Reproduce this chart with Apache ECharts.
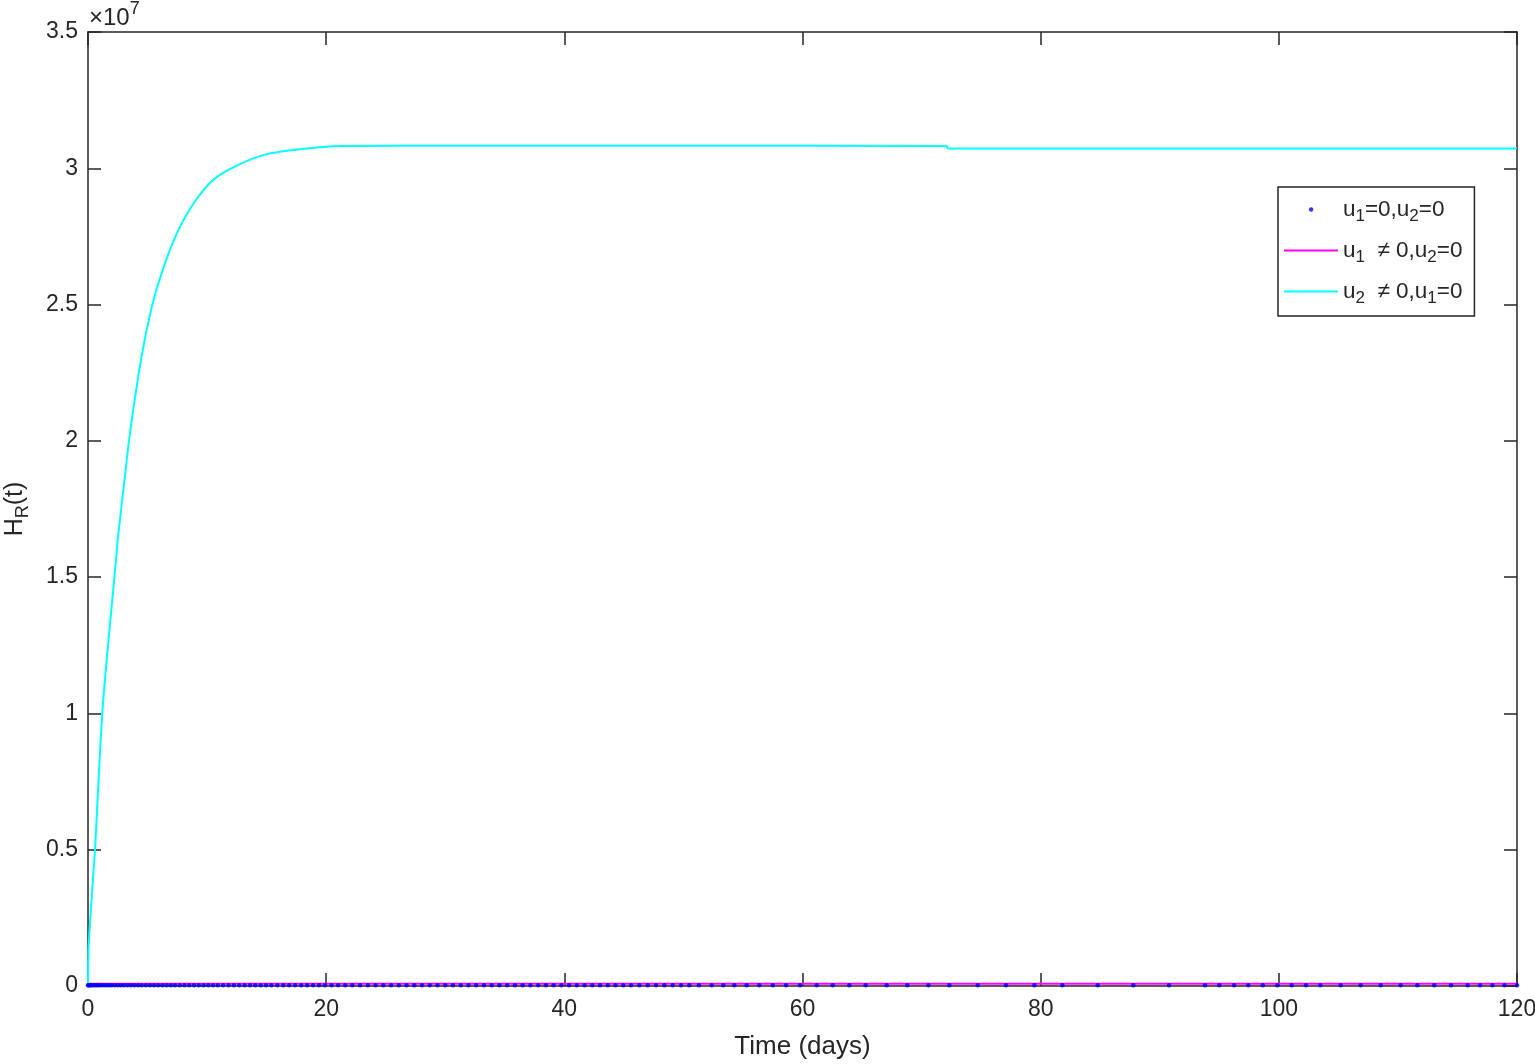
<!DOCTYPE html>
<html>
<head>
<meta charset="utf-8">
<script src="https://cdn.jsdelivr.net/npm/echarts@6/dist/echarts.min.js"></script>
<style>
html,body{margin:0;padding:0;background:#fff;}
#chart{width:1535px;height:1064px;}
</style>
</head>
<body>
<div id="chart"></div>
<script>
// ---- data ----
const xTicks = [0, 20, 40, 60, 80, 100, 120];
const yTickLabels = ['0', '0.5', '1', '1.5', '2', '2.5', '3', '3.5'];
const seriesNames = ['u1=0,u2=0', 'u1≠0,u2=0', 'u2≠0,u1=0'];

// u1=0,u2=0 : solver points (time, H_R)
const noControlT = [0, 0.05, 0.1, 0.2, 0.3, 0.4, 0.55, 0.7, 0.85, 1.0, 1.2, 1.4, 1.6, 1.8, 2.0, 2.25, 2.5, 2.75, 3.0, 3.3, 3.6, 3.9, 4.2, 4.5, 4.85, 5.2, 5.55, 5.9, 6.25, 6.6, 6.95, 7.3, 7.7, 8.1, 8.5, 8.9, 9.3, 9.7, 10.1, 10.5, 10.9, 11.35, 11.8, 12.25, 12.7, 13.15, 13.6, 14.05, 14.5, 14.95, 15.4, 15.9, 16.4, 16.9, 17.4, 17.9, 18.4, 18.9, 19.4, 19.9, 20.45, 21.0, 21.6, 22.2, 22.85, 23.5, 24.15, 24.8, 25.45, 26.1, 26.75, 27.4, 28.05, 28.7, 29.35, 30.0, 30.65, 31.3, 31.95, 32.6, 33.25, 33.9, 34.55, 35.2, 35.85, 36.5, 37.15, 37.8, 38.45, 39.1, 39.75, 40.4, 41.05, 41.7, 42.35, 43.0, 43.65, 44.3, 44.95, 45.6, 46.3, 47.0, 47.7, 48.4, 49.1, 49.8, 50.5, 51.3, 52.38, 53.35, 54.27, 55.31, 56.37, 57.5, 58.62, 59.79, 61.19, 62.54, 63.93, 65.31, 67.07, 68.8, 70.57, 72.33, 74.72, 77.09, 79.47, 81.82, 84.79, 87.78, 90.78, 93.8, 95.0, 96.24, 97.43, 98.65, 99.87, 101.08, 102.28, 103.48, 105.19, 106.87, 108.55, 110.23, 111.63, 113.05, 114.46, 115.86, 116.9, 117.93, 118.94, 120];
const noControlLevel = 3e4;

// u1≠0,u2=0
const u1T = [0, 20, 60, 120];
const u1H = [8e4, 8e4, 8e4, 8e4];

// u2≠0,u1=0
const u2T = [0, 0.05, 0.45, 0.59, 1.23, 2.35, 2.49, 2.97, 3.53, 4.5, 5.35, 6.19, 7.45, 8.85, 10.5, 12.5, 15.0, 17.8, 21.2, 30, 50, 72.1, 72.2, 120];
const u2H = [0, 1.43e6, 4.13e6, 5.0e6, 1.02e7, 1.563e7, 1.636e7, 1.82e7, 2.03e7, 2.31e7, 2.49e7, 2.616e7, 2.76e7, 2.87e7, 2.957e7, 3.01e7, 3.052e7, 3.07e7, 3.082e7, 3.083e7, 3.083e7, 3.082e7, 3.073e7, 3.073e7];

// ---- chart ----
const FONT = '"Liberation Sans", Arial, Helvetica, sans-serif';
const TXT = '#262626';
const chart = echarts.init(document.getElementById('chart'), null, {renderer: 'canvas'});

const legendRich = {
  t: {fontFamily: FONT, fontSize: 22.5, color: TXT, lineHeight: 27},
  s: {fontFamily: FONT, fontSize: 17, color: TXT, padding: [14, 0, 0, 0], lineHeight: 27}
};
const legendLabels = {
  'u1=0,u2=0': '{t|u}{s|1}{t|=0,u}{s|2}{t|=0}',
  'u1≠0,u2=0': '{t|u}{s|1}{t|  ≠ 0,u}{s|2}{t|=0}',
  'u2≠0,u1=0': '{t|u}{s|2}{t|  ≠ 0,u}{s|1}{t|=0}'
};
const dotIcon = 'path://M0,0h0.02v0.02h-0.02z M54,14h0.02v0.02h-0.02z M25,7a2.2,2.2 0 1,0 4.4,0a2.2,2.2 0 1,0 -4.4,0z';
const lineIcon = 'path://M0,0h0.02v0.02h-0.02z M0,6h54v2h-54z M54,14h0.02v0.02h-0.02z';

const tickStyle = {show: true, inside: true, length: 13, lineStyle: {color: '#262626', width: 1.5}};
const lineStyle = {show: true, onZero: false, lineStyle: {color: '#262626', width: 1.5}};

chart.setOption({
  animation: false,
  backgroundColor: '#fff',
  grid: {left: 88, right: 18, top: 32, bottom: 78, show: false, containLabel: false, outerBoundsMode: 'none'},
  xAxis: [{
    type: 'value', min: xTicks[0], max: xTicks[xTicks.length - 1], interval: 20,
    position: 'bottom',
    axisLine: lineStyle, axisTick: tickStyle, splitLine: {show: false},
    axisLabel: {fontFamily: FONT, fontSize: 23, color: TXT, margin: 12},
    name: 'Time (days)', nameLocation: 'middle', nameGap: 48,
    nameTextStyle: {fontFamily: FONT, fontSize: 26, color: TXT}
  }, {
    type: 'value', min: xTicks[0], max: xTicks[xTicks.length - 1], interval: 20,
    position: 'top',
    axisLine: lineStyle, axisTick: tickStyle, splitLine: {show: false},
    axisLabel: {show: false}
  }],
  yAxis: [{
    type: 'value', min: 0, max: 3.5e7, interval: 5e6,
    position: 'left',
    axisLine: lineStyle, axisTick: tickStyle, splitLine: {show: false},
    axisLabel: {fontFamily: FONT, fontSize: 23, color: TXT, margin: 10,
      formatter: function (v) { return yTickLabels[Math.round(v / 5e6)]; }},
    name: '{a|H}{b|R}{a|(t)}', nameLocation: 'middle', nameGap: 58, nameRotate: 90,
    nameTextStyle: {
      rich: {
        a: {fontFamily: FONT, fontSize: 25, color: TXT, lineHeight: 30},
        b: {fontFamily: FONT, fontSize: 18, color: TXT, padding: [16, 0, 0, 0], lineHeight: 30}
      }
    }
  }, {
    type: 'value', min: 0, max: 3.5e7, interval: 5e6,
    position: 'right',
    axisLine: lineStyle, axisTick: tickStyle, splitLine: {show: false},
    axisLabel: {show: false}
  }],
  legend: {
    orient: 'vertical', left: 1278, top: 187,
    padding: [7, 12, 9, 6], itemGap: 10, itemWidth: 54, itemHeight: 14,
    borderColor: '#262626', borderWidth: 1.5, backgroundColor: '#fff',
    data: [
      {name: seriesNames[0], icon: dotIcon},
      {name: seriesNames[1], icon: lineIcon},
      {name: seriesNames[2], icon: lineIcon}
    ],
    formatter: function (n) { return legendLabels[n]; },
    textStyle: {rich: legendRich}
  },
  graphic: [{
    type: 'text', left: 89, top: 0,
    style: {
      text: '{a|×10}{s|7}',
      rich: {
        a: {fontFamily: FONT, fontSize: 24, fill: TXT, padding: [9, 0, 0, 0]},
        s: {fontFamily: FONT, fontSize: 18, fill: TXT, padding: [0, 0, 10, 0]}
      }
    }
  }],
  series: [{
    name: seriesNames[0], type: 'scatter',
    data: noControlT.map(t => [t, noControlLevel]),
    symbol: 'circle', symbolSize: 4.5,
    itemStyle: {color: '#0000ff'}, z: 3
  }, {
    name: seriesNames[1], type: 'line',
    data: u1T.map((t, i) => [t, u1H[i]]),
    showSymbol: false, symbol: 'none',
    lineStyle: {color: '#ff00ff', width: 2}, itemStyle: {color: '#ff00ff'}, z: 2
  }, {
    name: seriesNames[2], type: 'line',
    data: u2T.map((t, i) => [t, u2H[i]]),
    showSymbol: false, symbol: 'none', smooth: 0.25,
    lineStyle: {color: '#00ffff', width: 2}, itemStyle: {color: '#00ffff'}, z: 2
  }]
});
</script>
</body>
</html>
